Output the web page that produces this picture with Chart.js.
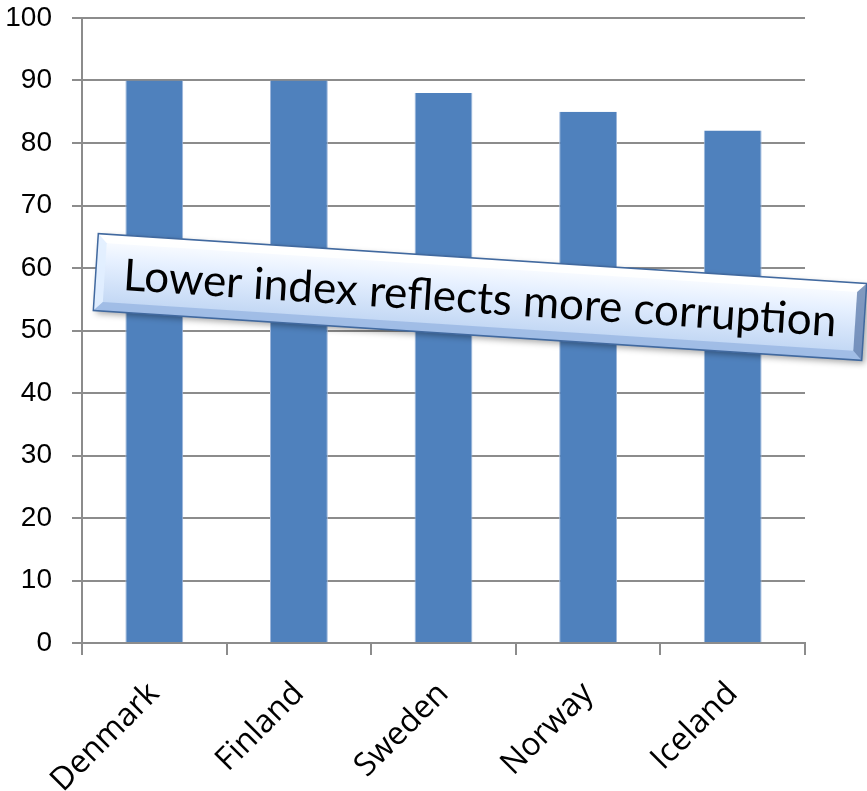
<!DOCTYPE html>
<html lang="en">
<head>
  <meta charset="UTF-8">
  <title>Corruption index - Nordic countries</title>
  <script src="https://cdn.jsdelivr.net/npm/chart.js"></script>
  <style>
    html, body { margin: 0; padding: 0; background: #fff; }
    #wrap { width: 867px; height: 791px; }
  </style>
</head>
<body>
  <div id="wrap"><canvas id="chart"></canvas></div>

  <script>
    // Data
    const countries = ['Denmark', 'Finland', 'Sweden', 'Norway', 'Iceland'];
    const indexValues = [90, 90, 88, 85, 82];
    const noteText = 'Lower index reflects more corruption';

    const gridGray = '#8c8c8c';
    const barBlue = '#4f81bd';

    // Rotated, bevelled text box drawn over the bars
    const noteBox = {
      id: 'noteBox',
      afterDraw(chart) {
        const ctx = chart.ctx;
        const w = 770, h = 77;
        ctx.save();
        ctx.translate(480, 297);
        ctx.rotate(3.72 * Math.PI / 180);

        // shadow
        ctx.shadowColor = 'rgba(0,0,0,0.35)';
        ctx.shadowBlur = 6;
        ctx.shadowOffsetX = 3;
        ctx.shadowOffsetY = 3;
        const g = ctx.createLinearGradient(0, -h / 2, 0, h / 2);
        g.addColorStop(0, '#ffffff');
        g.addColorStop(0.35, '#e6f0ff');
        g.addColorStop(1, '#bcd3f2');
        ctx.fillStyle = g;
        ctx.fillRect(-w / 2, -h / 2, w, h);
        ctx.shadowColor = 'transparent';

        // bevel edges
        const b = 9;
        ctx.fillStyle = 'rgba(255,255,255,0.85)';
        ctx.beginPath();
        ctx.moveTo(-w / 2, -h / 2); ctx.lineTo(w / 2, -h / 2);
        ctx.lineTo(w / 2 - b, -h / 2 + b); ctx.lineTo(-w / 2 + b, -h / 2 + b);
        ctx.closePath(); ctx.fill();
        ctx.fillStyle = 'rgba(225,238,255,0.9)';
        ctx.beginPath();
        ctx.moveTo(-w / 2, -h / 2); ctx.lineTo(-w / 2 + b, -h / 2 + b);
        ctx.lineTo(-w / 2 + b, h / 2 - b); ctx.lineTo(-w / 2, h / 2);
        ctx.closePath(); ctx.fill();
        ctx.fillStyle = 'rgba(150,180,225,0.75)';
        ctx.beginPath();
        ctx.moveTo(-w / 2, h / 2); ctx.lineTo(w / 2, h / 2);
        ctx.lineTo(w / 2 - b, h / 2 - b); ctx.lineTo(-w / 2 + b, h / 2 - b);
        ctx.closePath(); ctx.fill();
        ctx.fillStyle = 'rgba(90,120,170,0.75)';
        ctx.beginPath();
        ctx.moveTo(w / 2, -h / 2); ctx.lineTo(w / 2, h / 2);
        ctx.lineTo(w / 2 - b, h / 2 - b); ctx.lineTo(w / 2 - b, -h / 2 + b);
        ctx.closePath(); ctx.fill();

        ctx.strokeStyle = '#41699f';
        ctx.lineWidth = 1.5;
        ctx.strokeRect(-w / 2, -h / 2, w, h);

        ctx.fillStyle = '#000';
        ctx.font = '44px Lato';
        ctx.textAlign = 'center';
        ctx.textBaseline = 'middle';
        ctx.fillText(noteText, 0, 2);
        ctx.restore();
      }
    };

    new Chart(document.getElementById('chart'), {
      type: 'bar',
      data: {
        labels: countries,
        datasets: [{
          data: indexValues,
          backgroundColor: barBlue,
          borderColor: '#9fb8dc',
          borderWidth: { left: 1, right: 1, top: 0, bottom: 0 },
          categoryPercentage: 1,
          barPercentage: 0.4
        }]
      },
      options: {
        responsive: true,
        maintainAspectRatio: false,
        animation: false,
        layout: { padding: { top: 0, right: 62, left: 0, bottom: 0 } },
        plugins: { legend: { display: false }, tooltip: { enabled: false } },
        scales: {
          y: {
            min: 0,
            max: 100,
            ticks: {
              stepSize: 10,
              color: '#000',
              padding: 20,
              font: { family: 'Liberation Sans', size: 28 }
            },
            grid: { color: gridGray, lineWidth: 2, tickLength: 10 },
            border: { color: gridGray, width: 2 },
            afterFit(scale) {
              scale.width = 82;
              scale.paddingTop = 18;   // plot top sits at the 100 line
              scale.paddingBottom = 0;
            }
          },
          x: {
            ticks: {
              color: '#000',
              minRotation: 45,
              maxRotation: 45,
              padding: 20,
              font: { family: 'Open Sans', size: 32 }
            },
            grid: { color: gridGray, lineWidth: 2, drawOnChartArea: false, tickLength: 12 },
            border: { color: gridGray, width: 2 },
            afterFit(scale) { scale.height = 148; }
          }
        }
      },
      plugins: [noteBox]
    });
  </script>
</body>
</html>
